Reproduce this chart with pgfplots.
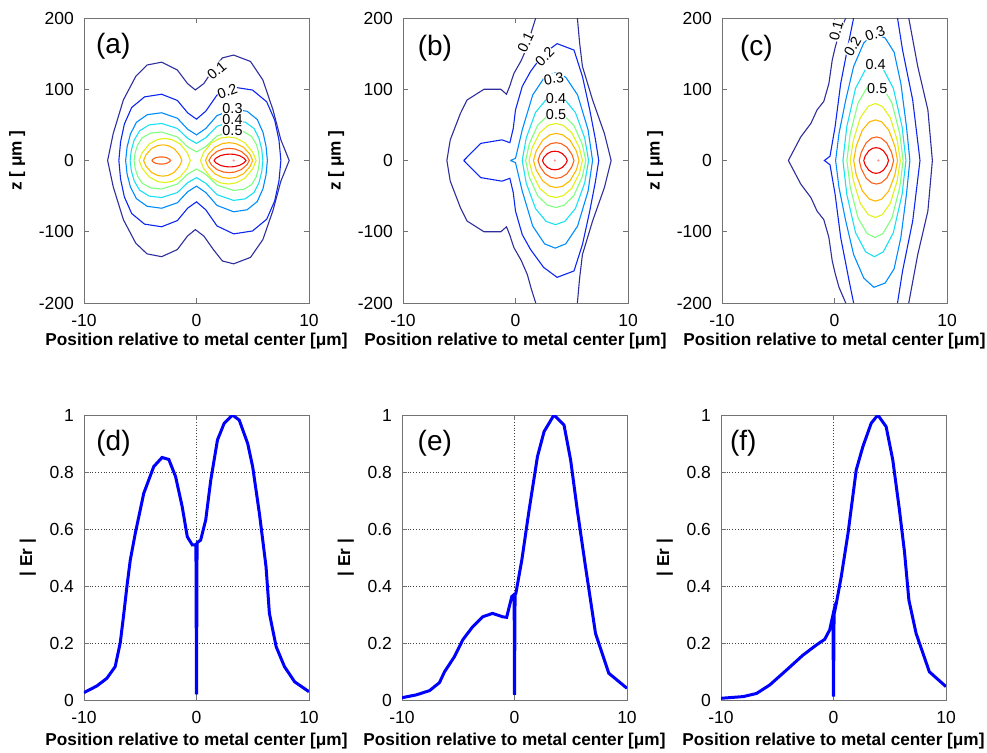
\documentclass[border=0pt]{standalone}
\usepackage{pgfplots}
\pgfplotsset{compat=1.18}
\usepackage{fontspec}
\setmainfont{Liberation Sans}

% contour level colours, 0.1 ... 0.9
\definecolor{c1}{rgb}{0.18,0.18,0.62}
\definecolor{c2}{rgb}{0.05,0.15,0.95}
\definecolor{c3}{rgb}{0.0,0.55,1.0}
\definecolor{c4}{rgb}{0.1,0.88,0.95}
\definecolor{c5}{rgb}{0.5,1.0,0.5}
\definecolor{c6}{rgb}{0.88,0.95,0.1}
\definecolor{c7}{rgb}{1.0,0.72,0.0}
\definecolor{c8}{rgb}{1.0,0.38,0.1}
\definecolor{c9}{rgb}{0.95,0.0,0.0}

\tikzset{
  lvl/.style={font=\fontsize{7.2}{8}\selectfont, fill=white, inner sep=0.1pt},
  tag/.style={font=\fontsize{14}{16}\selectfont},
}

\pgfplotsset{
  panel/.style={
    scale only axis, width=112.5pt, height=142.5pt, anchor=south west,
    xmin=-10, xmax=10, xtick={-10,0,10},
    tick align=inside, tick pos=both, xticklabel pos=lower, yticklabel pos=left,
    major tick length=2.5pt,
    axis line style={black!55}, tick style={black!55, line width=0.4pt},
    ticklabel style={font=\fontsize{8.75}{10}\selectfont},
    xticklabel style={yshift=-2pt},
    yticklabel style={xshift=-1.5pt},
    /pgf/number format/assume math mode=true,
    label style={font=\bfseries\fontsize{8.6}{10}\selectfont},
    xlabel={Position relative to metal center [μm]},
  },
  toprow/.style={panel, ymin=-200, ymax=200, ytick={-200,-100,0,100,200},
    ylabel={z [ μm ]},
    xlabel style={at={(axis description cs:0.5,0)}, anchor=center, yshift=-19pt}},
  botrow/.style={panel, ymin=0, ymax=1, ytick={0,0.2,0.4,0.6,0.8,1},
    ylabel={| Er |}, xmajorgrids, ymajorgrids,
    grid style={densely dotted, black!75, line width=0.45pt},
    xlabel style={at={(axis description cs:0.5,0)}, anchor=center, yshift=-20.5pt}},
  ctr/.style={sharp plot, no markers, line width=0.55pt},
  prof/.style={sharp plot, no markers, line width=1.5pt, color=blue},
}

\begin{document}
\begin{tikzpicture}
\useasboundingbox (0,0) rectangle (493.5pt,376pt);

% ---------------- (a)
\begin{axis}[toprow, at={(42pt,224.5pt)}]
\addplot[ctr, c1] coordinates {(-7.9,0) (-7.4,38) (-6.5,85) (-5.4,118) (-4.4,134) (-3.1,138) (-1.7,127) (-0.8,108) (-0.1,99) (0.65,108) (1.5,128) (2.3,144) (3.3,148) (4.8,139) (5.9,113) (6.8,71) (7.5,29) (8.24,0) (7.5,-29) (6.8,-70) (5.9,-111) (4.8,-136) (3.3,-145) (2.3,-141) (1.5,-125) (0.65,-106) (-0.1,-97) (-0.8,-106) (-1.7,-125) (-3.1,-135) (-4.4,-131) (-5.4,-116) (-6.5,-83) (-7.4,-37) (-7.9,0)};
\addplot[ctr, c2] coordinates {(-6.9,0) (-6.75,26) (-6.41,51.2) (-5.76,74.4) (-4.62,89.3) (-3.1,93) (-1.7,84.3) (-0.78,66.8) (0,58) (0.83,69.3) (1.82,91.8) (3.3,103) (4.98,98.9) (6.24,82.4) (6.95,56.7) (7.33,28.8) (7.5,0) (7.33,-28.8) (6.95,-56.7) (6.24,-82.4) (4.98,-98.9) (3.3,-103) (1.82,-91.8) (0.83,-69.3) (0,-58) (-0.78,-66.8) (-1.7,-84.3) (-3.1,-93) (-4.62,-89.3) (-5.76,-74.4) (-6.41,-51.2) (-6.75,-26) (-6.9,0)};
\addplot[ctr, c3] coordinates {(-6.3,0) (-6.17,18.8) (-5.88,36.9) (-5.34,53.6) (-4.38,64.3) (-3.1,67) (-1.7,59.3) (-0.78,43.8) (0,36) (0.83,45) (1.82,63) (3.3,72) (4.5,69.1) (5.4,57.6) (5.91,39.6) (6.18,20.2) (6.3,0) (6.18,-20.2) (5.91,-39.6) (5.4,-57.6) (4.5,-69.1) (3.3,-72) (1.82,-63) (0.83,-45) (0,-36) (-0.78,-43.8) (-1.7,-59.3) (-3.1,-67) (-4.38,-64.3) (-5.34,-53.6) (-5.88,-36.9) (-6.17,-18.8) (-6.3,0)};
\addplot[ctr, c4] coordinates {(-5.9,0) (-5.79,14.6) (-5.54,28.6) (-5.06,41.6) (-4.22,49.9) (-3.1,52) (-1.7,45) (-0.78,31) (0,24) (0.83,32) (1.82,48) (3.3,56) (4.34,53.8) (5.12,44.8) (5.56,30.8) (5.8,15.7) (5.9,0) (5.8,-15.7) (5.56,-30.8) (5.12,-44.8) (4.34,-53.8) (3.3,-56) (1.82,-48) (0.83,-32) (0,-24) (-0.78,-31) (-1.7,-45) (-3.1,-52) (-4.22,-49.9) (-5.06,-41.6) (-5.54,-28.6) (-5.79,-14.6) (-5.9,0)};
\addplot[ctr, c5] coordinates {(-5.55,0) (-5.45,11.2) (-5.23,22) (-4.82,32) (-4.08,38.4) (-3.1,40) (-1.7,33) (-0.78,19) (0,12) (0.83,19.5) (1.82,34.5) (3.3,42) (4.22,40.3) (4.91,33.6) (5.3,23.1) (5.51,11.8) (5.6,0) (5.51,-11.8) (5.3,-23.1) (4.91,-33.6) (4.22,-40.3) (3.3,-42) (1.82,-34.5) (0.83,-19.5) (0,-12) (-0.78,-19) (-1.7,-33) (-3.1,-40) (-4.08,-38.4) (-4.82,-32) (-5.23,-22) (-5.45,-11.2) (-5.55,0)};
\addplot[ctr, c6] coordinates {(-5.1,0) (-4.83,10.9) (-4.19,23.3) (-3.46,29.5) (-2.83,31) (-2.19,29.5) (-1.46,23.3) (-0.82,10.9) (-0.55,0) (-0.82,-10.9) (-1.46,-23.3) (-2.19,-29.5) (-2.83,-31) (-3.46,-29.5) (-4.19,-23.3) (-4.83,-10.9) (-5.1,0)};
\addplot[ctr, c6] coordinates {(0.35,0) (0.65,11.6) (1.34,24.8) (2.13,31.4) (2.83,33) (3.52,31.4) (4.31,24.8) (5.0,11.6) (5.3,0) (5.0,-11.6) (4.31,-24.8) (3.52,-31.4) (2.83,-33) (2.13,-31.4) (1.34,-24.8) (0.65,-11.6) (0.35,0)};
\addplot[ctr, c7] coordinates {(-4.7,0) (-4.5,7.7) (-4.02,16.5) (-3.48,20.9) (-3.0,22) (-2.52,20.9) (-1.98,16.5) (-1.5,7.7) (-1.3,0) (-1.5,-7.7) (-1.98,-16.5) (-2.52,-20.9) (-3.0,-22) (-3.48,-20.9) (-4.02,-16.5) (-4.5,-7.7) (-4.7,0)};
\addplot[ctr, c7] coordinates {(0.8,0) (1.05,8.8) (1.64,18.8) (2.31,23.8) (2.9,25) (3.49,23.8) (4.16,18.8) (4.75,8.8) (5.0,0) (4.75,-8.8) (4.16,-18.8) (3.49,-23.8) (2.9,-25) (2.31,-23.8) (1.64,-18.8) (1.05,-8.8) (0.8,0)};
\addplot[ctr, c8] coordinates {(-3.97,0) (-3.87,1.8) (-3.64,3.8) (-3.37,4.8) (-3.14,5) (-2.9,4.8) (-2.63,3.8) (-2.4,1.8) (-2.3,0) (-2.4,-1.8) (-2.63,-3.8) (-2.9,-4.8) (-3.14,-5) (-3.37,-4.8) (-3.64,-3.8) (-3.87,-1.8) (-3.97,0)};
\addplot[ctr, c8] coordinates {(1.1,0) (1.32,6) (1.82,12.8) (2.4,16.2) (2.9,17) (3.4,16.2) (3.98,12.8) (4.48,6) (4.7,0) (4.48,-6) (3.98,-12.8) (3.4,-16.2) (2.9,-17) (2.4,-16.2) (1.82,-12.8) (1.32,-6) (1.1,0)};
\addplot[ctr, c9] coordinates {(1.55,0) (1.72,3.2) (2.12,6.8) (2.58,8.6) (2.98,9) (3.37,8.6) (3.83,6.8) (4.23,3.2) (4.4,0) (4.23,-3.2) (3.83,-6.8) (3.37,-8.6) (2.98,-9) (2.58,-8.6) (2.12,-6.8) (1.72,-3.2) (1.55,0)};
\addplot[only marks, mark=*, mark size=0.4pt, color=red!40] coordinates {(3.3,0)};
\node[lvl, rotate=40] at (axis cs:1.8,126) {0.1};
\node[lvl, rotate=20] at (axis cs:2.74,97) {0.2};
\node[lvl] at (axis cs:3.2,73) {0.3};
\node[lvl] at (axis cs:3.2,57) {0.4};
\node[lvl] at (axis cs:3.2,42) {0.5};
\node[tag] at (rel axis cs:0.13,0.9) {(a)};
\end{axis}

% ---------------- (b)
\begin{axis}[toprow, at={(201.5pt,224.5pt)}]
\addplot[ctr, c1] coordinates {(1.8,200) (1.4,180) (1.05,160) (0.5,140) (-0.15,122) (-0.5,105) (-0.8,93) (-1.3,100) (-2.8,100) (-4.3,85) (-4.9,66) (-5.8,29) (-6.1,0) (-5.8,-29) (-4.9,-66) (-4.3,-85) (-2.8,-100) (-1.3,-100) (-0.8,-93) (-0.5,-105) (-0.15,-122) (0.5,-140) (1.05,-160) (1.4,-180) (1.8,-200)};
\addplot[ctr, c1] coordinates {(5.5,200) (5.7,165) (5.95,132) (6.85,85) (7.9,38) (8.5,0) (7.9,-38) (6.85,-85) (5.95,-132) (5.7,-165) (5.5,-200)};
\addplot[ctr, c2] coordinates {(-4.6,0) (-3.1,24) (-1.2,29) (-0.5,25) (-0.2,45) (0.0,71) (0.6,104) (1.34,125) (2.5,150) (3.7,164) (5.2,155) (5.95,118) (6.6,71) (7.1,30) (7.4,0) (7.1,-30) (6.6,-71) (5.95,-118) (5.2,-155) (3.7,-164) (2.5,-150) (1.34,-125) (0.6,-104) (0.0,-71) (-0.2,-45) (-0.5,-25) (-1.2,-29) (-3.1,-24) (-4.6,0)};
\addplot[ctr, c3] coordinates {(-0.45,0) (0.0,3) (0.6,43) (1.53,92) (2.59,117) (3.53,123) (4.46,117) (5.52,92) (6.45,43) (6.85,0) (6.45,-43) (5.52,-92) (4.46,-117) (3.53,-123) (2.59,-117) (1.53,-92) (0.6,-43) (0.0,-3) (-0.45,0)};
\addplot[ctr, c4] coordinates {(0.6,0) (0.95,31.5) (1.78,67.5) (2.72,85.5) (3.55,90) (4.38,85.5) (5.32,67.5) (6.15,31.5) (6.5,0) (6.15,-31.5) (5.32,-67.5) (4.38,-85.5) (3.55,-90) (2.72,-85.5) (1.78,-67.5) (0.95,-31.5) (0.6,0)};
\addplot[ctr, c5] coordinates {(0.9,0) (1.22,23.1) (1.97,49.5) (2.83,62.7) (3.58,66) (4.32,62.7) (5.18,49.5) (5.93,23.1) (6.25,0) (5.93,-23.1) (5.18,-49.5) (4.32,-62.7) (3.58,-66) (2.83,-62.7) (1.97,-49.5) (1.22,-23.1) (0.9,0)};
\addplot[ctr, c6] coordinates {(1.2,0) (1.49,18.2) (2.15,39) (2.91,49.4) (3.58,52) (4.24,49.4) (5.0,39) (5.67,18.2) (5.95,0) (5.67,-18.2) (5.0,-39) (4.24,-49.4) (3.58,-52) (2.91,-49.4) (2.15,-39) (1.49,-18.2) (1.2,0)};
\addplot[ctr, c7] coordinates {(1.6,0) (1.84,13.3) (2.41,28.5) (3.06,36.1) (3.63,38) (4.19,36.1) (4.84,28.5) (5.41,13.3) (5.65,0) (5.41,-13.3) (4.84,-28.5) (4.19,-36.1) (3.63,-38) (3.06,-36.1) (2.41,-28.5) (1.84,-13.3) (1.6,0)};
\addplot[ctr, c8] coordinates {(2.0,0) (2.19,8.8) (2.64,18.8) (3.15,23.8) (3.6,25) (4.05,23.8) (4.56,18.8) (5.01,8.8) (5.2,0) (5.01,-8.8) (4.56,-18.8) (4.05,-23.8) (3.6,-25) (3.15,-23.8) (2.64,-18.8) (2.19,-8.8) (2.0,0)};
\addplot[ctr, c9] coordinates {(2.4,0) (2.53,4.6) (2.84,9.8) (3.19,12.4) (3.5,13) (3.81,12.4) (4.16,9.8) (4.47,4.6) (4.6,0) (4.47,-4.6) (4.16,-9.8) (3.81,-12.4) (3.5,-13) (3.19,-12.4) (2.84,-9.8) (2.53,-4.6) (2.4,0)};
\addplot[only marks, mark=*, mark size=0.4pt, color=red!40] coordinates {(3.5,0)};
\node[lvl, rotate=65] at (axis cs:0.9,166) {0.1};
\node[lvl, rotate=45] at (axis cs:2.6,146) {0.2};
\node[lvl, rotate=10] at (axis cs:3.4,115) {0.3};
\node[lvl] at (axis cs:3.6,87) {0.4};
\node[lvl] at (axis cs:3.6,64) {0.5};
\node[tag] at (rel axis cs:0.142,0.894) {(b)};
\end{axis}

% ---------------- (c)
\begin{axis}[toprow, at={(361pt,224.5pt)}]
\addplot[ctr, c1] coordinates {(1.0,200) (0.4,178) (0.05,158) (-0.2,141) (-0.5,108) (-0.95,83) (-1.55,71) (-2.1,52) (-3.0,33) (-4.1,0) (-3.0,-33) (-2.1,-52) (-1.55,-71) (-0.95,-83) (-0.5,-108) (-0.2,-141) (0.05,-158) (0.4,-178) (1.0,-200)};
\addplot[ctr, c1] coordinates {(6.6,200) (7.4,132) (8.3,71) (8.7,0) (8.3,-71) (7.4,-132) (6.6,-200)};
\addplot[ctr, c2] coordinates {(1.7,200) (1.3,169) (0.55,108) (0.05,47) (-0.4,6) (-0.9,0) (-0.4,-6) (0.05,-47) (0.55,-108) (1.3,-169) (1.7,-200)};
\addplot[ctr, c2] coordinates {(5.6,200) (6.05,155) (6.95,85) (7.6,0) (6.95,-85) (6.05,-155) (5.6,-200)};
\addplot[ctr, c3] coordinates {(0.1,0) (0.4,38) (1.0,85) (1.7,132) (2.6,165) (3.5,178) (4.5,172) (5.3,152) (5.9,108) (6.4,47) (6.7,0) (6.4,-47) (5.9,-108) (5.3,-152) (4.5,-172) (3.5,-178) (2.6,-165) (1.7,-132) (1.0,-85) (0.4,-38) (0.1,0)};
\addplot[ctr, c4] coordinates {(0.75,0) (1.09,47.3) (1.87,101.3) (2.77,128.3) (3.55,135) (4.33,128.3) (5.23,101.3) (6.01,47.3) (6.35,0) (6.01,-47.3) (5.23,-101.3) (4.33,-128.3) (3.55,-135) (2.77,-128.3) (1.87,-101.3) (1.09,-47.3) (0.75,0)};
\addplot[ctr, c5] coordinates {(1.1,0) (1.4,37.8) (2.1,81) (2.9,102.6) (3.6,108) (4.3,102.6) (5.1,81) (5.8,37.8) (6.1,0) (5.8,-37.8) (5.1,-81) (4.3,-102.6) (3.6,-108) (2.9,-102.6) (2.1,-81) (1.4,-37.8) (1.1,0)};
\addplot[ctr, c6] coordinates {(1.4,0) (1.67,28) (2.29,60) (3.0,76) (3.63,80) (4.25,76) (4.96,60) (5.58,28) (5.85,0) (5.58,-28) (4.96,-60) (4.25,-76) (3.63,-80) (3.0,-76) (2.29,-60) (1.67,-28) (1.4,0)};
\addplot[ctr, c7] coordinates {(1.7,0) (1.93,20) (2.48,42.8) (3.1,54.2) (3.65,57) (4.2,54.2) (4.82,42.8) (5.37,20) (5.6,0) (5.37,-20) (4.82,-42.8) (4.2,-54.2) (3.65,-57) (3.1,-54.2) (2.48,-42.8) (1.93,-20) (1.7,0)};
\addplot[ctr, c8] coordinates {(2.2,0) (2.38,11.6) (2.81,24.8) (3.3,31.4) (3.73,33) (4.15,31.4) (4.64,24.8) (5.07,11.6) (5.25,0) (5.07,-11.6) (4.64,-24.8) (4.15,-31.4) (3.73,-33) (3.3,-31.4) (2.81,-24.8) (2.38,-11.6) (2.2,0)};
\addplot[ctr, c9] coordinates {(2.6,0) (2.73,6.3) (3.04,13.5) (3.39,17.1) (3.7,18) (4.01,17.1) (4.36,13.5) (4.67,6.3) (4.8,0) (4.67,-6.3) (4.36,-13.5) (4.01,-17.1) (3.7,-18) (3.39,-17.1) (3.04,-13.5) (2.73,-6.3) (2.6,0)};
\addplot[only marks, mark=*, mark size=0.4pt, color=red!40] coordinates {(3.9,0)};
\node[lvl, rotate=75] at (axis cs:0.15,182) {0.1};
\node[lvl, rotate=60] at (axis cs:1.6,160) {0.2};
\node[lvl, rotate=20] at (axis cs:3.6,178) {0.3};
\node[lvl] at (axis cs:3.66,134) {0.4};
\node[lvl] at (axis cs:3.8,101) {0.5};
\node[tag] at (rel axis cs:0.153,0.894) {(c)};
\end{axis}

% ---------------- (d)
\begin{axis}[botrow, at={(42pt,26pt)}]
\addplot[prof] coordinates {(-10,0.026) (-8.87,0.049) (-7.97,0.076) (-7.23,0.117) (-6.78,0.2) (-6.5,0.29) (-6.18,0.4) (-5.89,0.49) (-5.44,0.585) (-4.69,0.725) (-3.8,0.819) (-3.06,0.851) (-2.46,0.844) (-1.86,0.784) (-1.27,0.678) (-0.82,0.573) (-0.37,0.544) (-0.05,0.545) (0,0.02) (0.05,0.552) (0.37,0.561) (0.82,0.632) (1.27,0.772) (1.86,0.912) (2.46,0.971) (3.2,1.0) (3.8,0.982) (4.55,0.9) (4.99,0.819) (5.59,0.655) (6.18,0.468) (6.48,0.304) (7.08,0.187) (7.82,0.117) (8.72,0.064) (10,0.029)};
\node[tag] at (rel axis cs:0.131,0.9) {(d)};
\end{axis}

% ---------------- (e)
\begin{axis}[botrow, at={(201pt,26pt)}]
\addplot[prof] coordinates {(-10,0.008) (-8.73,0.018) (-7.55,0.033) (-6.67,0.061) (-6.22,0.099) (-5.34,0.152) (-4.6,0.211) (-3.72,0.257) (-2.83,0.292) (-1.95,0.304) (-1.06,0.292) (-0.7,0.29) (-0.24,0.363) (-0.03,0.37) (0,0.018) (0.05,0.37) (0.12,0.374) (0.65,0.491) (1.3,0.667) (2.04,0.854) (2.63,0.942) (3.51,1.0) (4.4,0.965) (4.99,0.842) (5.58,0.667) (6.31,0.468) (7.2,0.234) (8.38,0.094) (10,0.041)};
\node[tag] at (rel axis cs:0.146,0.9) {(e)};
\end{axis}

% ---------------- (f)
\begin{axis}[botrow, at={(360.5pt,26pt)}]
\addplot[prof] coordinates {(-10,0.006) (-8.02,0.012) (-6.84,0.023) (-5.66,0.053) (-4.18,0.105) (-2.7,0.158) (-1.52,0.193) (-0.78,0.213) (-0.34,0.246) (-0.05,0.298) (0,0.012) (0.05,0.3) (0.25,0.339) (0.69,0.433) (1.29,0.585) (2.02,0.807) (2.61,0.889) (3.35,0.971) (3.94,1.0) (4.68,0.959) (5.27,0.842) (5.86,0.667) (6.31,0.52) (6.7,0.351) (7.34,0.234) (8.52,0.099) (10,0.047)};
\node[tag] at (rel axis cs:0.099,0.9) {(f)};
\end{axis}
\end{tikzpicture}
\end{document}
